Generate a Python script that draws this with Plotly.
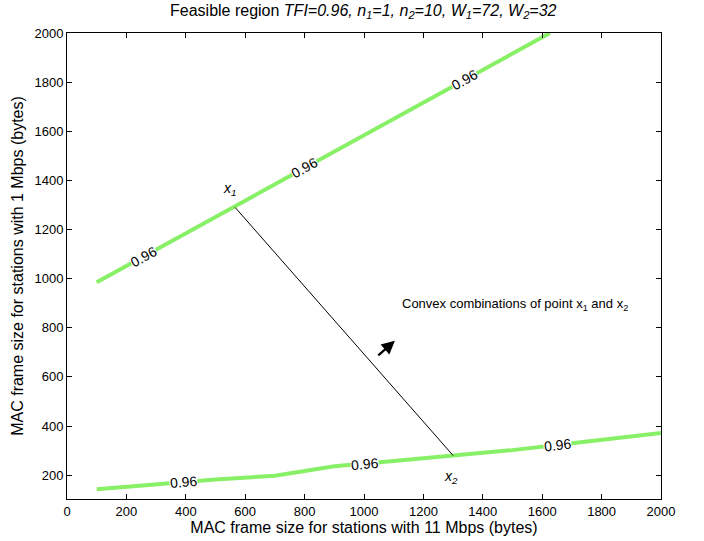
import numpy as np
import plotly.graph_objects as go

# Upper contour (TFI = 0.96)
upper_x = [100, 300, 500, 700, 900, 1100, 1300, 1500, 1626]
upper_y = [985, 1118, 1251, 1384, 1517, 1650, 1783, 1916, 2000]
# Lower contour (TFI = 0.96)
lower_x = [100, 300, 500, 700, 800, 900, 1100, 1300, 1500, 1700, 2000]
lower_y = [143, 163, 182, 198, 218, 236, 258, 280, 302, 330, 372]
# label x-positions along the contours
upper_label_x = [256, 798, 1337]
lower_label_x = [391, 1000, 1653]
# convex combination segment endpoints
seg_x = [566, 1300]
seg_y = [1290, 280]
# arrow tail / head
arrow_x = [1043, 1104]
arrow_y = [682, 747]
note_pos = (1121, 893)

X_RANGE = [0, 2000]
Y_RANGE = [103, 2000]
L, R, T, B = 67, 43, 33, 42
W, H = 704, 541
pw, ph = W - L - R, H - T - B
sx = pw / (X_RANGE[1] - X_RANGE[0])
sy = ph / (Y_RANGE[1] - Y_RANGE[0])

green = "#88F066"
fig = go.Figure()
fig.add_trace(go.Scatter(x=upper_x, y=upper_y, mode="lines",
                         line=dict(color=green, width=4), showlegend=False, hoverinfo="skip"))
fig.add_trace(go.Scatter(x=lower_x, y=lower_y, mode="lines",
                         line=dict(color=green, width=4), showlegend=False, hoverinfo="skip"))
fig.add_trace(go.Scatter(x=seg_x, y=seg_y, mode="lines",
                         line=dict(color="black", width=1), showlegend=False, hoverinfo="skip"))

font = "Liberation Sans, Arial, Helvetica, sans-serif"

def add_labels(xs, lx, ly):
    for x in xs:
        y = np.interp(x, lx, ly)
        d = 20
        slope = (np.interp(x + d, lx, ly) - np.interp(x - d, lx, ly)) / (2 * d)
        ang = np.degrees(np.arctan(slope * sy / sx))
        fig.add_annotation(x=x, y=float(y), text="0.96", showarrow=False,
                           textangle=-ang, bgcolor="white", borderpad=0,
                           font=dict(size=14, color="black", family=font))

add_labels(upper_label_x, upper_x, upper_y)
add_labels(lower_label_x, lower_x, lower_y)

fig.add_annotation(x=seg_x[0], y=seg_y[0], text="<i>x<sub>1</sub></i>", showarrow=False,
                   xshift=-6, yshift=18, font=dict(size=14, color="black", family=font))
fig.add_annotation(x=seg_x[1], y=seg_y[1], text="<i>x<sub>2</sub></i>", showarrow=False,
                   xshift=-2, yshift=-21, font=dict(size=14, color="black", family=font))

fig.add_annotation(x=arrow_x[1], y=arrow_y[1], ax=arrow_x[0], ay=arrow_y[0],
                   axref="x", ayref="y", xref="x", yref="y", text="",
                   showarrow=True, arrowhead=2, arrowsize=1.2, arrowwidth=2.2, arrowcolor="black")
fig.add_annotation(x=note_pos[0], y=note_pos[1],
                   text="Convex combinations of point x<sub>1</sub> and x<sub>2</sub>",
                   showarrow=False, xanchor="left",
                   font=dict(size=13, color="black", family=font))

fig.update_layout(
    width=W, height=H,
    margin=dict(l=L, r=R, t=T, b=B),
    paper_bgcolor="white", plot_bgcolor="white",
    font=dict(family=font, color="black", size=13),
    title=dict(text="Feasible region <i>TFI=0.96, n<sub>1</sub>=1, n<sub>2</sub>=10, W<sub>1</sub>=72, W<sub>2</sub>=32</i>",
               x=0.516, xanchor="center", y=0.992, yanchor="top",
               font=dict(size=16, family=font)),
)
axis_common = dict(showline=True, linecolor="black", linewidth=1, mirror="ticks",
                   ticks="inside", ticklen=5, tickcolor="black", showgrid=False,
                   zeroline=False, tickfont=dict(size=13, family=font))
fig.update_xaxes(range=X_RANGE, tickvals=list(range(0, 2001, 200)),
                 title=dict(text="MAC frame size for stations with 11 Mbps (bytes)",
                            font=dict(size=16, family=font), standoff=0),
                 **axis_common)
fig.update_yaxes(range=Y_RANGE, tickvals=list(range(200, 2001, 200)),
                 title=dict(text="MAC frame size for stations with 1 Mbps (bytes)",
                            font=dict(size=16, family=font), standoff=6),
                 **axis_common)

fig.write_html("out.html")
